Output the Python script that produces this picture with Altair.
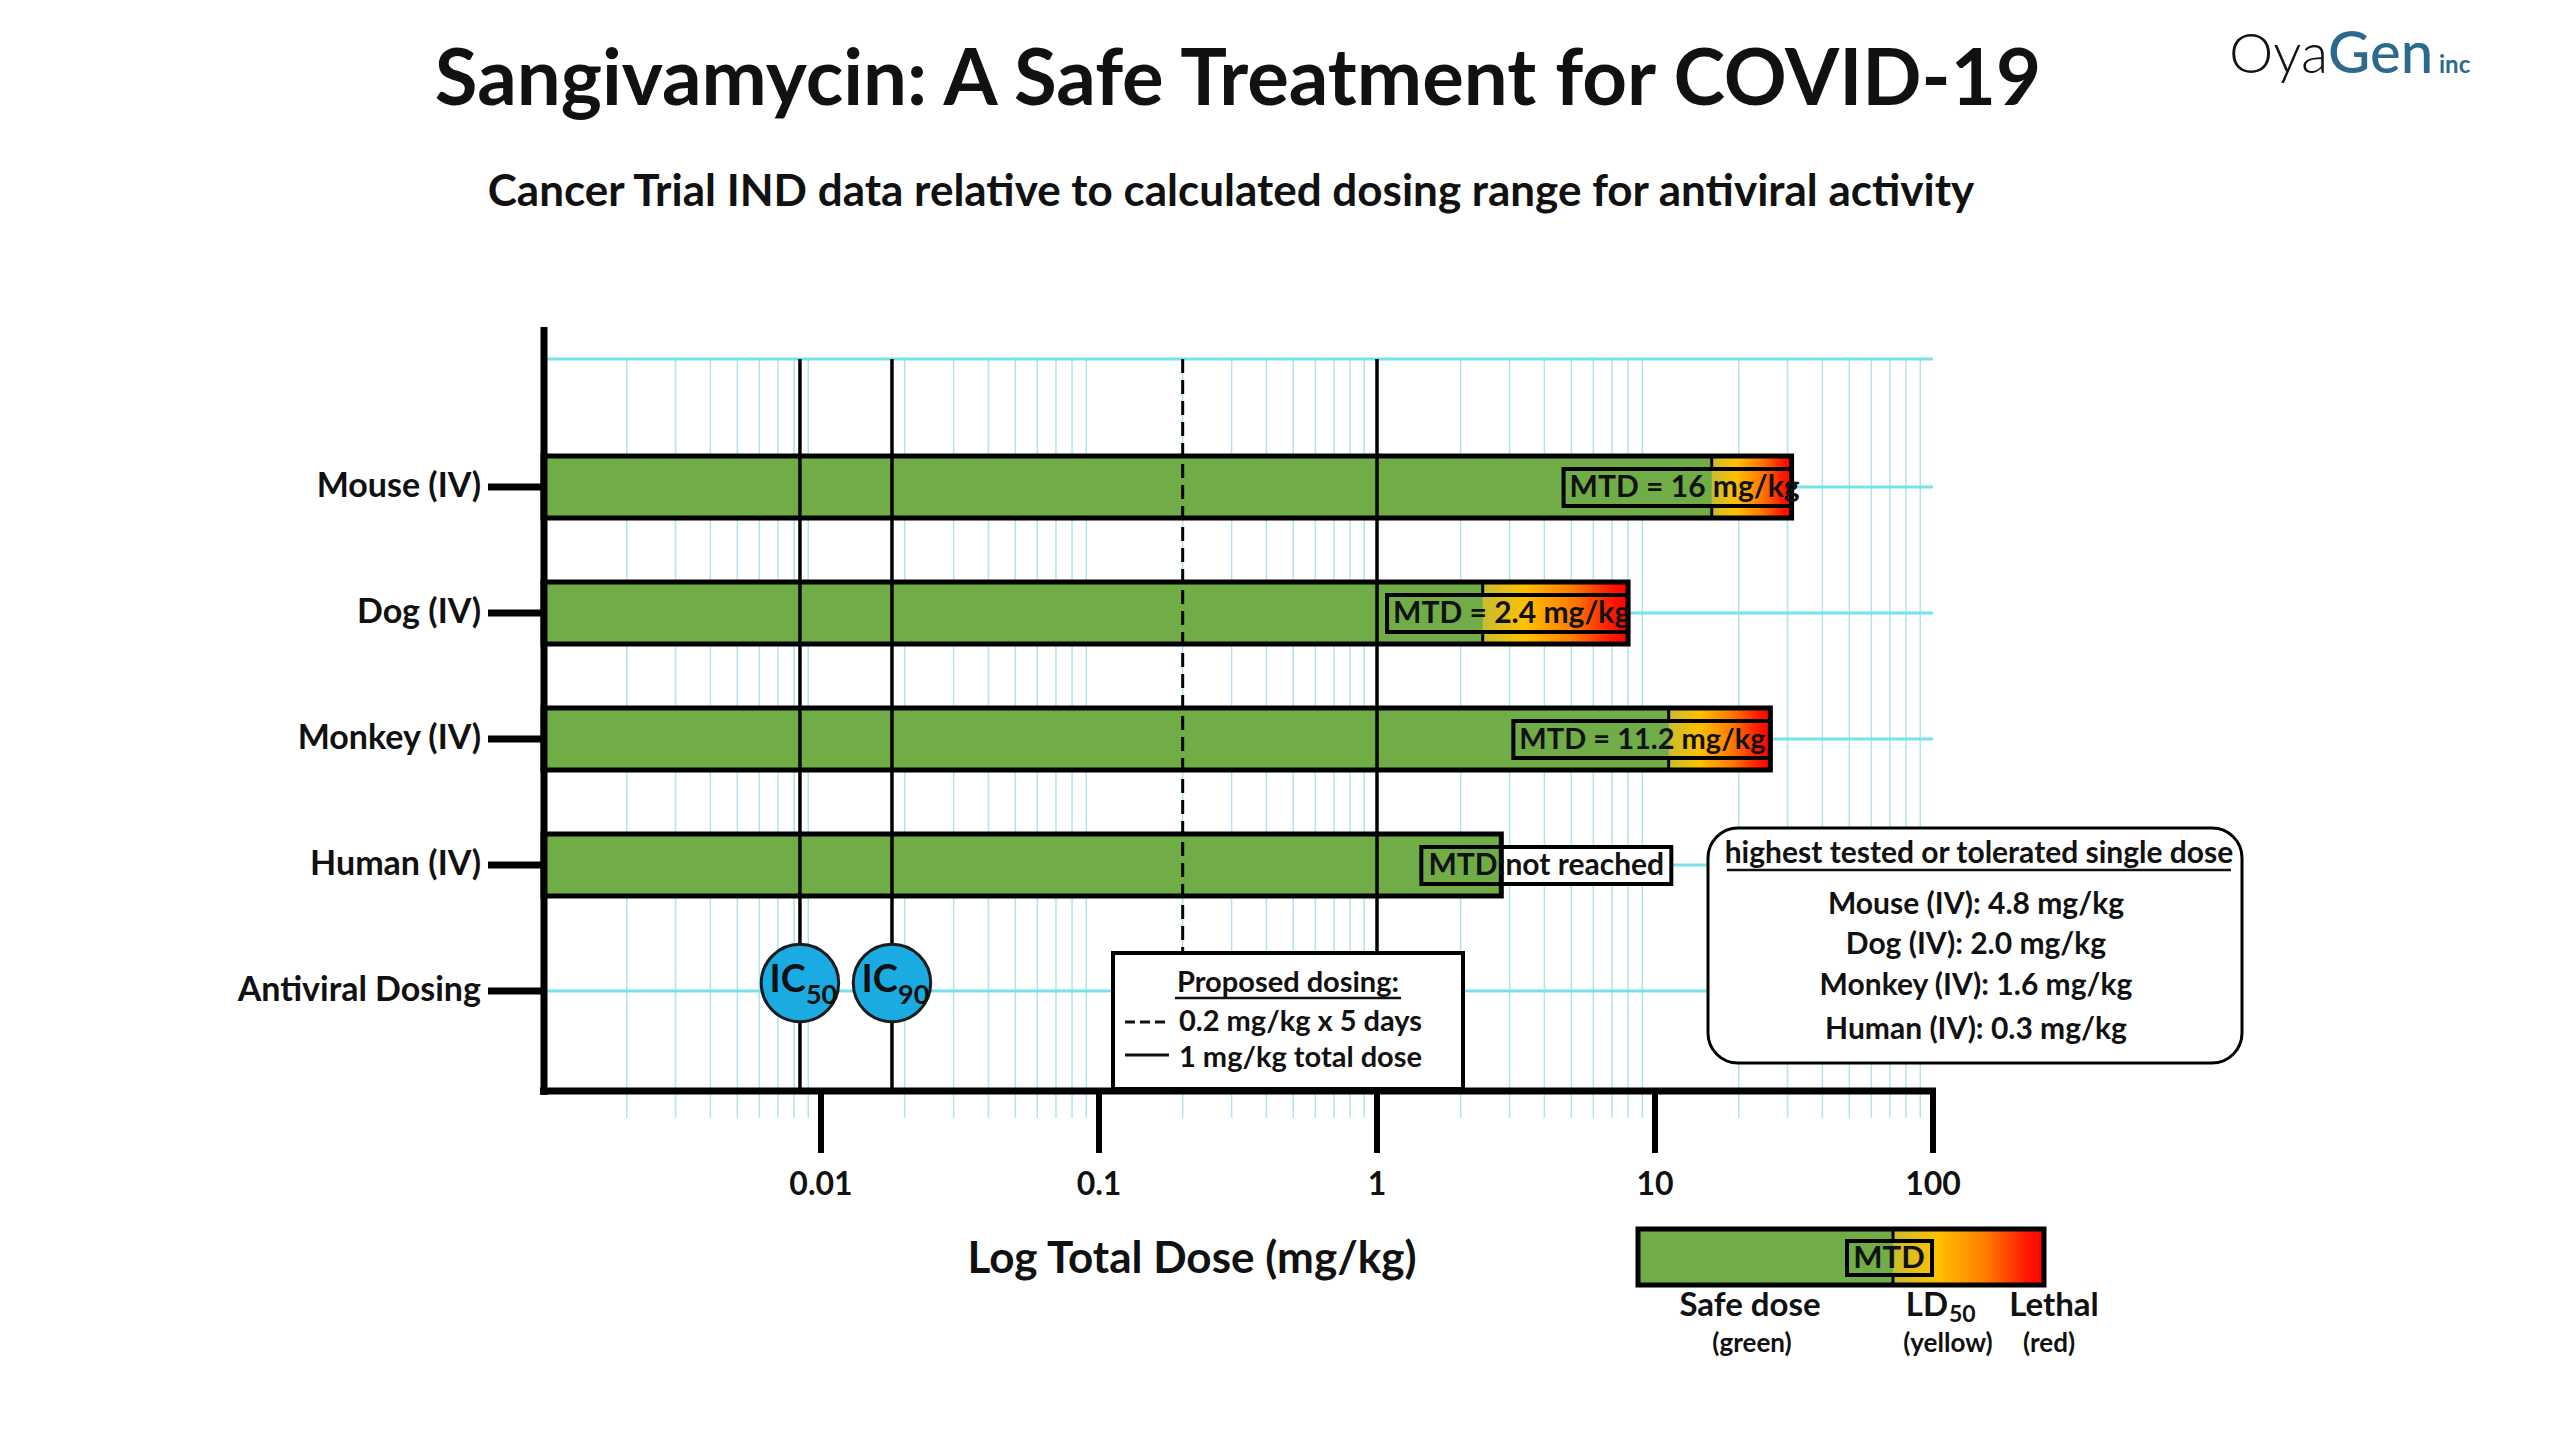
import altair as alt
import pandas as pd

# ---------------- data ----------------
animals = ["Mouse (IV)", "Dog (IV)", "Monkey (IV)", "Human (IV)"]
row_labels = animals + ["Antiviral Dosing"]
bar_end = [31, 8, 26, 2.8]               # mg/kg, end of tested range
mtd_animals = ["Mouse (IV)", "Dog (IV)", "Monkey (IV)"]
mtd_value = [16, 2.4, 11.2]               # mg/kg
mtd_labels = ["MTD = 16 mg/kg", "MTD = 2.4 mg/kg", "MTD = 11.2 mg/kg", "MTD:not reached"]
ic_labels = ["50", "90"]
ic_values = [0.0084, 0.018]               # mg/kg
dose_per_day = 0.2
total_dose = 1
x_ticks = [0.01, 0.1, 1, 10, 100]
x_tick_labels = ["0.01", "0.1", "1", "10", "100"]
x_min, x_max = 0.001, 100
highest_title = "highest tested or tolerated single dose"
highest_lines = ["Mouse (IV): 4.8 mg/kg", "Dog (IV): 2.0 mg/kg",
                 "Monkey (IV): 1.6 mg/kg", "Human (IV): 0.3 mg/kg"]

# ---------------- layout / style ----------------
W, H = 1390, 732
FONT = "Lato"
INK = "#111111"
GREEN = "#70AD47"
CYAN = "#74E3EB"
GRIDC = "#B0E4EC"

xs = alt.Scale(type="log", domain=[x_min, x_max], nice=False)
ys = alt.Scale(domain=[-1.016, 4.794], nice=False, zero=False, reverse=True)


def X(f):
    return alt.X(f"{f}:Q", scale=xs, axis=None)


def Y(f):
    return alt.Y(f"{f}:Q", scale=ys, axis=None)


one = pd.DataFrame({"a": [0]})


def tx(text, x, y, size, align="center", weight="bold", color=INK, baseline="middle"):
    return alt.Chart(pd.DataFrame({"t": [text]})).mark_text(
        align=align, baseline=baseline, fontSize=size, fontWeight=weight,
        color=color, font=FONT).encode(x=alt.value(x), y=alt.value(y), text="t:N")


def rect(x1, y1, x2, y2, **mk):
    return alt.Chart(one).mark_rect(**mk).encode(
        x=alt.value(x1), x2=alt.value(x2), y=alt.value(y1), y2=alt.value(y2))


def rule(x1, y1, x2, y2, **mk):
    return alt.Chart(one).mark_rule(**mk).encode(
        x=alt.value(x1), x2=alt.value(x2), y=alt.value(y1), y2=alt.value(y2))


grad = alt.LinearGradient(
    gradient="linear",
    stops=[alt.GradientStop(color="#C8BC30", offset=0),
           alt.GradientStop(color="#FFC000", offset=0.3),
           alt.GradientStop(color="#FF7A00", offset=0.62),
           alt.GradientStop(color="#FF1A00", offset=0.88),
           alt.GradientStop(color="#FF0000", offset=1)],
    x1=0, x2=1, y1=0, y2=0)

rows_df = pd.DataFrame({"label": row_labels, "row": list(range(len(row_labels)))})
bars_df = pd.DataFrame({"animal": animals, "row": list(range(len(animals))),
                        "start": [x_min] * len(animals), "end": bar_end,
                        "label": mtd_labels})
mtd_df = pd.DataFrame({"animal": mtd_animals, "row": [animals.index(a) for a in mtd_animals],
                       "mtd": mtd_value,
                       "end": [bar_end[animals.index(a)] for a in mtd_animals]})
ic_df = pd.DataFrame({"sub": ic_labels, "v": ic_values, "row": [len(animals)] * len(ic_labels)})
tick_df = pd.DataFrame({"v": x_ticks, "t": x_tick_labels})
minor = [m * 10.0 ** e for e in range(-3, 2) for m in range(2, 10)]

# box offsets (px) for the MTD label boxes, relative to bar end
box_off = {"Mouse (IV)": (-228, 0), "Dog (IV)": (-241, 0),
           "Monkey (IV)": (-257, 0), "Human (IV)": (-80, 170)}
label_size = {"Mouse (IV)": 30, "Dog (IV)": 30, "Monkey (IV)": 29, "Human (IV)": 30}

L = []
# grid
L.append(alt.Chart(pd.DataFrame({"v": minor})).mark_rule(color=GRIDC, strokeWidth=1.5)
         .encode(x=X("v"), y=alt.value(0), y2=alt.value(759)))
L.append(rule(0, 0, W, 0, color=CYAN, strokeWidth=3))
L.append(alt.Chart(rows_df).mark_rule(color=CYAN, strokeWidth=3)
         .encode(x=alt.value(0), x2=alt.value(W), y=Y("row")))

# human white box part outside the bar
hum = bars_df[bars_df.animal == "Human (IV)"]
L.append(alt.Chart(hum).mark_rect(fill="white", x2Offset=box_off["Human (IV)"][1],
                                  yOffset=-18, y2Offset=19)
         .encode(x=X("end"), x2="end", y=Y("row"), y2="row"))

# bars
L.append(alt.Chart(bars_df).mark_rect(fill=GREEN, yOffset=-31, y2Offset=31)
         .encode(x=X("start"), x2="end", y=Y("row"), y2="row"))
L.append(alt.Chart(mtd_df).mark_rect(fill=grad, yOffset=-31, y2Offset=31)
         .encode(x=X("mtd"), x2="end", y=Y("row"), y2="row"))
L.append(alt.Chart(bars_df).mark_rect(fill="transparent", stroke="#000", strokeWidth=5,
                                      yOffset=-31, y2Offset=31)
         .encode(x=X("start"), x2="end", y=Y("row"), y2="row"))
L.append(alt.Chart(mtd_df).mark_rule(color="#000", strokeWidth=3, yOffset=-31, y2Offset=-18)
         .encode(x=X("mtd"), y=Y("row"), y2="row"))
L.append(alt.Chart(mtd_df).mark_rule(color="#000", strokeWidth=3, yOffset=19, y2Offset=31)
         .encode(x=X("mtd"), y=Y("row"), y2="row"))

# vertical reference lines
L.append(alt.Chart(ic_df).mark_rule(color="#000", strokeWidth=3.5)
         .encode(x=X("v"), y=alt.value(0), y2=alt.value(H)))
L.append(alt.Chart(pd.DataFrame({"v": [total_dose]})).mark_rule(color="#000", strokeWidth=3.5)
         .encode(x=X("v"), y=alt.value(0), y2=alt.value(H)))
L.append(alt.Chart(pd.DataFrame({"v": [dose_per_day]})).mark_rule(color="#000", strokeWidth=3,
                                                                  strokeDash=[14, 7])
         .encode(x=X("v"), y=alt.value(0), y2=alt.value(H)))

# MTD boxes and labels
for a in animals:
    d = bars_df[bars_df.animal == a]
    o1, o2 = box_off[a]
    L.append(alt.Chart(d).mark_rect(fill="transparent", stroke="#000", strokeWidth=4,
                                    xOffset=o1, x2Offset=o2, yOffset=-18, y2Offset=19)
             .encode(x=X("end"), x2="end", y=Y("row"), y2="row"))
    if a == "Human (IV)":
        L.append(alt.Chart(d).mark_text(align="center", baseline="middle", fontSize=label_size[a],
                                        fontWeight="bold", font=FONT, color=INK,
                                        dx=(o1 + o2) / 2, dy=1)
                 .encode(x=X("end"), y=Y("row"), text="label:N"))
    else:
        L.append(alt.Chart(d).mark_text(align="left", baseline="middle", fontSize=label_size[a],
                                        fontWeight="bold", font=FONT, color=INK,
                                        dx=o1 + 6, dy=1)
                 .encode(x=X("end"), y=Y("row"), text="label:N"))

# axes
L.append(rule(1, -32, 1, 736, color="#000", strokeWidth=7))
L.append(rule(-3, H, W + 3, H, color="#000", strokeWidth=7))
L.append(alt.Chart(rows_df).mark_rule(color="#000", strokeWidth=7)
         .encode(x=alt.value(-55), x2=alt.value(0), y=Y("row")))
L.append(alt.Chart(rows_df).mark_text(align="right", baseline="middle", fontSize=34,
                                      fontWeight="bold", font=FONT, color=INK)
         .encode(x=alt.value(-62), y=Y("row"), text="label:N"))
L.append(alt.Chart(tick_df).mark_rule(color="#000", strokeWidth=6)
         .encode(x=X("v"), y=alt.value(H), y2=alt.value(794)))
L.append(alt.Chart(tick_df).mark_text(align="center", baseline="middle", fontSize=32,
                                      fontWeight="bold", font=FONT, color=INK)
         .encode(x=X("v"), y=alt.value(826), text="t:N"))
L.append(tx("Log Total Dose (mg/kg)", 649, 901, 44))

# proposed dosing box
L.append(rect(570, 594, 920, 730, fill="white", stroke="#000", strokeWidth=4))
L.append(tx("Proposed dosing:", 745, 624, 29))
L.append(rule(632, 639, 858, 639, color=INK, strokeWidth=2.5))
L.append(rule(582, 663, 626, 663, color=INK, strokeWidth=3, strokeDash=[10, 5]))
L.append(tx(f"{dose_per_day} mg/kg x 5 days", 636, 663, 29, align="left"))
L.append(rule(582, 696, 626, 696, color=INK, strokeWidth=3))
L.append(tx(f"{total_dose} mg/kg total dose", 636, 699, 29, align="left"))

# IC circles
L.append(alt.Chart(ic_df).mark_circle(size=6000, color="#1AABE3", opacity=1, stroke="#1b1b1b",
                                      strokeWidth=3, yOffset=-8)
         .encode(x=X("v"), y=Y("row")))
L.append(alt.Chart(ic_df).mark_text(align="right", baseline="middle", fontSize=38,
                                    fontWeight="bold", font=FONT, color=INK, dx=6, dy=-10,
                                    text="IC")
         .encode(x=X("v"), y=Y("row")))
L.append(alt.Chart(ic_df).mark_text(align="left", baseline="middle", fontSize=27,
                                    fontWeight="bold", font=FONT, color=INK, dx=6, dy=5)
         .encode(x=X("v"), y=Y("row"), text="sub:N"))

# highest tested box
L.append(rect(1165, 469, 1699, 704, fill="white", stroke="#000", strokeWidth=3, cornerRadius=30))
L.append(tx(highest_title, 1436, 495, 30))
L.append(rule(1184, 511, 1688, 511, color=INK, strokeWidth=2.5))
for line, yy in zip(highest_lines, [546, 586, 627, 671]):
    L.append(tx(line, 1433, yy, 30))

# colour legend
L.append(rect(1095, 870, 1350, 926, fill=GREEN))
L.append(rect(1350, 870, 1501, 926, fill=grad))
L.append(rect(1095, 870, 1501, 926, fill="transparent", stroke="#000", strokeWidth=5))
L.append(rule(1350, 870, 1350, 882, color="#000", strokeWidth=3))
L.append(rule(1350, 916, 1350, 926, color="#000", strokeWidth=3))
L.append(rect(1304, 882, 1389, 916, fill="transparent", stroke="#000", strokeWidth=4))
L.append(tx("MTD", 1346, 900, 31))
L.append(tx("Safe dose", 1207, 947, 33))
L.append(tx("(green)", 1209, 985, 26))
L.append(tx("LD", 1405, 947, 33, align="right"))
L.append(tx("50", 1406, 956, 23, align="left"))
L.append(tx("(yellow)", 1405, 985, 26))
L.append(tx("Lethal", 1511, 947, 33))
L.append(tx("(red)", 1506, 985, 26))

# titles
L.append(tx("Sangivamycin: A Safe Treatment for COVID-19", 695, -277, 78))
L.append(tx("Cancer Trial IND data relative to calculated dosing range for antiviral activity",
            688, -166, 44))

# logo text
L.append(tx("Oya", 1785, -286, 56, align="right", weight=300, baseline="alphabetic"))
L.append(tx("Gen", 1785, -286, 58, align="left", weight=500, color="#2B6A8C",
            baseline="alphabetic"))
L.append(tx("inc", 1896, -286, 24, align="left", color="#2B6A8C", baseline="alphabetic"))

chart = alt.layer(*L).properties(
    width=W, height=H,
    autosize=alt.AutoSizeParams(type="none"),
    padding={"left": 535, "top": 351, "right": 619, "bottom": 337},
).configure_view(strokeWidth=0)

chart.save("out.html", embed_options={"renderer": "svg", "actions": False})
